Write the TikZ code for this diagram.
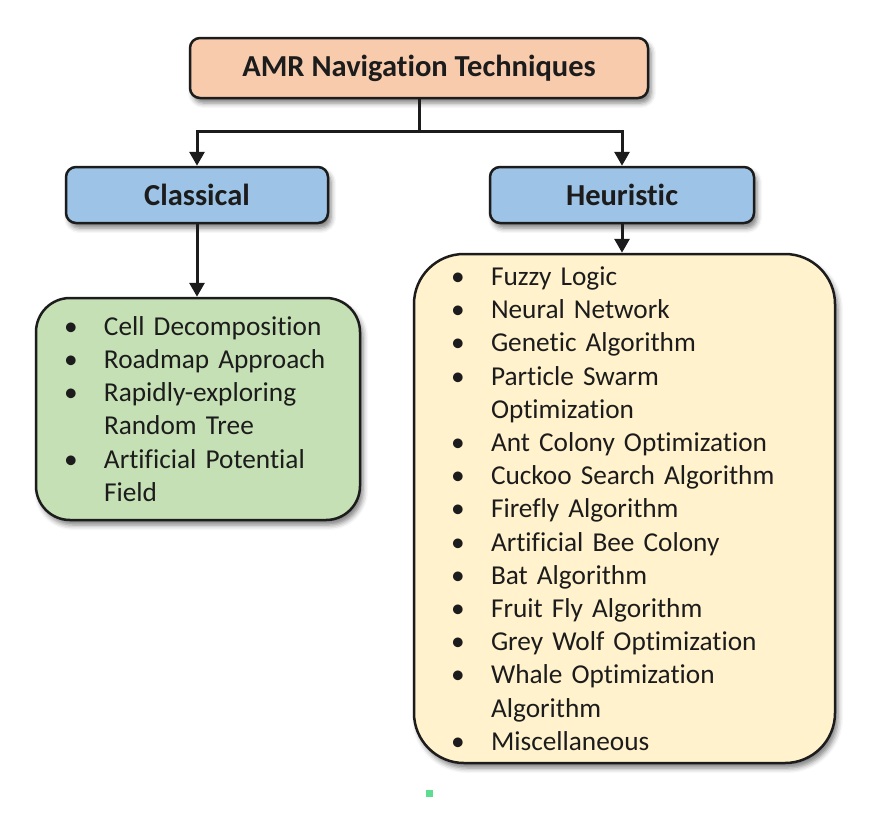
\documentclass[tikz,border=0pt]{standalone}
\usepackage{fontspec}
\setmainfont{Carlito}[Ligatures={NoCommon}]
\usepackage{xcolor}
\usepackage{tikz}
\usetikzlibrary{arrows.meta,shadows.blur}
\definecolor{peach}{HTML}{F8CBAD}
\definecolor{skyblue}{HTML}{9DC3E6}
\definecolor{sage}{HTML}{C5E0B4}
\definecolor{cream}{HTML}{FFF2CC}
\definecolor{inkgray}{HTML}{1C1C1C}
\definecolor{markgreen}{HTML}{5EDC8F}
\tikzset{
  boxshadow/.style={blur shadow={shadow xshift=3pt, shadow yshift=-5pt, shadow blur radius=5pt, shadow opacity=50}},
  headbox/.style={draw=inkgray, line width=2.5pt, rounded corners=10pt, boxshadow, inner sep=0pt,
    font=\fontsize{30.5}{36}\selectfont\bfseries, text=inkgray},
  listbox/.style={draw=inkgray, line width=2.5pt, boxshadow, inner ysep=0pt, align=left,
    font=\fontsize{27.3}{33.2}\selectfont, text=inkgray},
  linkarrow/.style={line width=3pt, inkgray, -{Triangle[width=15pt,length=14pt]}},
}
\newcommand{\bitem}[1]{\makebox[40pt][l]{\textbullet}#1}
\newcommand{\bcont}[1]{\makebox[40pt][l]{}#1}
\begin{document}
\begin{tikzpicture}[x=1pt, y=-1pt]
\useasboundingbox (0,0) rectangle (870,831);
\node[headbox, fill=peach, minimum width=458pt, minimum height=60pt] (amr) at (419,68) {AMR Navigation Techniques};
\node[headbox, fill=skyblue, minimum width=262pt, minimum height=56pt] (classical) at (197,195) {Classical};
\node[headbox, fill=skyblue, minimum width=264pt, minimum height=56pt] (heuristic) at (622,195) {Heuristic};
\node[listbox, fill=sage, rounded corners=34pt, minimum width=324pt, minimum height=222pt,
  inner xsep=28pt, text width=268pt] (classlist) at (198,409) {%
  \bitem{Cell Decomposition}\\
  \bitem{Roadmap Approach}\\
  \bitem{Rapidly-exploring}\\
  \bcont{Random Tree}\\
  \bitem{Artificial Potential}\\
  \bcont{Field}};
\node[listbox, fill=cream, rounded corners=50pt, minimum width=421pt, minimum height=509pt,
  inner xsep=37pt, text width=347pt] (heurlist) at (624.5,508.5) {%
  \bitem{Fuzzy Logic}\\
  \bitem{Neural Network}\\
  \bitem{Genetic Algorithm}\\
  \bitem{Particle Swarm}\\
  \bcont{Optimization}\\
  \bitem{Ant Colony Optimization}\\
  \bitem{Cuckoo Search Algorithm}\\
  \bitem{Firefly Algorithm}\\
  \bitem{Artificial Bee Colony}\\
  \bitem{Bat Algorithm}\\
  \bitem{Fruit Fly Algorithm}\\
  \bitem{Grey Wolf Optimization}\\
  \bitem{Whale Optimization}\\
  \bcont{Algorithm}\\
  \bitem{Miscellaneous}};
\coordinate (split) at (419,131);
\draw[line width=3pt, inkgray] (amr.south) -- (split);
\draw[linkarrow] (split) -| (classical.north);
\draw[linkarrow] (split) -| (heuristic.north);
\draw[linkarrow] (classical.south) -- (classical.south |- classlist.north);
\draw[linkarrow] (heuristic.south) -- (heuristic.south |- heurlist.north);
\fill[markgreen] (426,790) rectangle (433,797);
\end{tikzpicture}
\end{document}
